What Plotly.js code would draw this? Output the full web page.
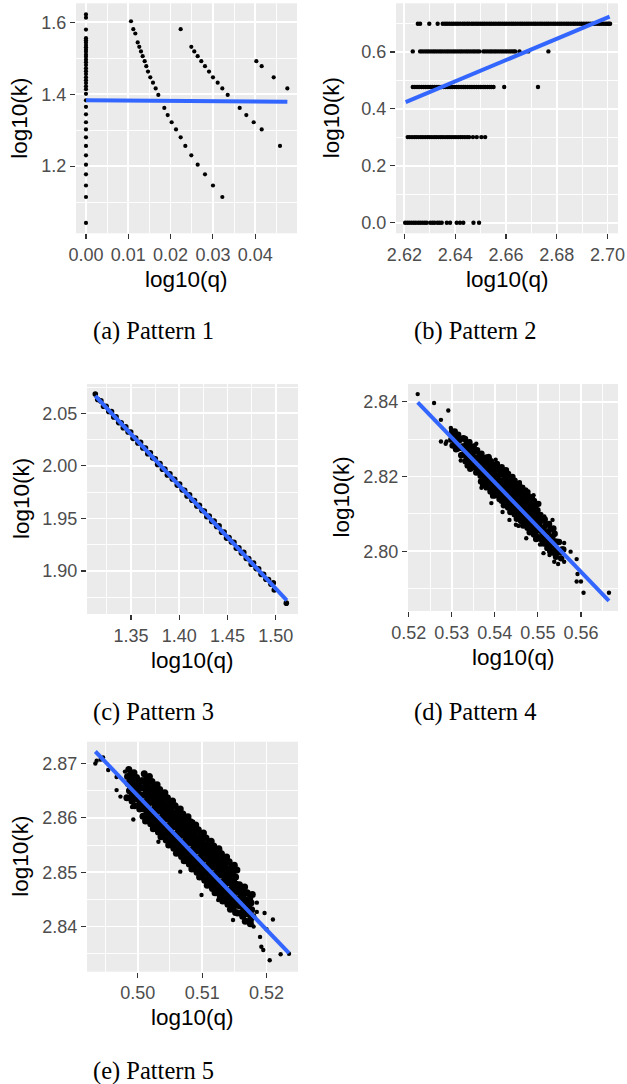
<!DOCTYPE html>
<html><head><meta charset="utf-8">
<script src="https://cdn.plot.ly/plotly-3.0.1.min.js"></script>
<style>html,body{margin:0;padding:0;background:#fff}#chart{width:627px;height:1084px}</style>
</head><body><div id="chart"></div>
<script>
// ---------------- DATA ----------------
const captions = ["(a) Pattern 1", "(b) Pattern 2", "(c) Pattern 3", "(d) Pattern 4", "(e) Pattern 5"];
const xLabel = "log10(q)";
const yLabel = "log10(k)";

// Pattern 1: [log10(q), log10(k)]
const aPoints = [
 [0,1.622],[0,1.613],[0,1.580],[0,1.556],[0,1.550],[0,1.544],[0,1.537],[0,1.531],[0,1.524],[0,1.518],
 [0,1.510],[0,1.504],[0,1.496],[0,1.489],[0,1.481],[0,1.472],[0,1.464],[0,1.456],[0,1.447],[0,1.439],
 [0,1.431],[0,1.422],[0,1.414],[0,1.401],[0,1.383],[0,1.365],[0,1.344],[0,1.322],[0,1.302],[0,1.280],
 [0,1.256],[0,1.230],[0,1.204],[0,1.177],[0,1.146],[0,1.114],[0,1.042],
 [0.01064,1.603],[0.01119,1.581],[0.01166,1.569],[0.01222,1.544],[0.0126,1.532],[0.0130,1.519],[0.0134,1.506],
 [0.01387,1.492],[0.01426,1.478],[0.01466,1.463],[0.0152,1.447],[0.01584,1.432],[0.01647,1.416],[0.0171,1.398],
 [0.01852,1.362],[0.01931,1.342],[0.02025,1.322],[0.02128,1.302],[0.02238,1.280],[0.02348,1.256],[0.0249,1.230],
 [0.0264,1.204],[0.02813,1.177],[0.03002,1.146],[0.03223,1.114],
 [0.02238,1.581],[0.0249,1.532],[0.0256,1.519],[0.0264,1.506],[0.02726,1.492],[0.02813,1.478],[0.02908,1.463],
 [0.03002,1.447],[0.03113,1.432],[0.03223,1.416],[0.0335,1.398],[0.03633,1.362],[0.0379,1.342],[0.03964,1.322],
 [0.04153,1.302],
 [0.04027,1.492],[0.04153,1.478],[0.04437,1.447],[0.0476,1.416],[0.04586,1.256]
];
const aFitQ = [0, 0.0476];
const aFitK = [1.3832, 1.3788];

// Pattern 2: log10(q) values on each k level
const bLevels = [0.69897, 0.60206, 0.47712, 0.30103, 0];
const bRowK5 = [2.6253,2.6262,2.6298,2.6331,2.6351,2.6360,2.6368,2.6377,2.6386,2.6394,2.6403,2.6411,2.6420,2.6430,
 2.6438,2.6447,2.6455,2.6465,2.6473,2.6482,2.6490,2.6499,2.6508,2.6516,2.6525,2.6534,2.6542,2.6551,2.6560,2.6569,
 2.6577,2.6586,2.6595,2.6603,2.6612,2.6621,2.6629,2.6638,2.6647,2.6656,2.6664,2.6673,2.6682,2.6690,2.6699,2.6708,
 2.6716,2.6725,2.6734,2.6742,2.6751,2.6760,2.6768,2.6777,2.6786,2.6794,2.6803,2.6812,2.6820,2.6829,2.6838,2.6846,
 2.6855,2.6864,2.6872,2.6881,2.6890,2.6898,2.6907,2.6916,2.6924,2.6933,2.6942,2.6950,2.6959,2.6968,2.6976,2.6985,
 2.6993,2.7000,2.7005,2.7010];
const bRowK4 = [2.6233,2.6262,2.6270,2.6279,2.6288,2.6296,2.6305,2.6314,2.6322,2.6331,2.6340,2.6348,2.6357,2.6366,
 2.6374,2.6383,2.6392,2.6400,2.6409,2.6418,2.6426,2.6435,2.6444,2.6452,2.6461,2.6470,2.6478,2.6487,2.6495,
 2.6511,2.6519,2.6528,2.6537,2.6545,2.6554,2.6562,2.6571,2.6580,2.6588,2.6597,2.6605,2.6614,2.6622,2.6630,2.6636,
 2.6653,2.6688,2.6767];
const bRowK3 = [2.6233,2.6241,2.6250,2.6258,2.6267,2.6276,2.6284,2.6293,2.6302,2.6310,2.6319,2.6328,2.6336,2.6345,
 2.6354,2.6362,2.6371,2.6380,2.6388,2.6397,2.6406,2.6414,2.6423,2.6432,2.6440,2.6449,2.6458,2.6466,2.6475,2.6484,
 2.6492,2.6501,2.6510,2.6518,2.6527,2.6536,2.6543,2.6551,2.6593,2.6726];
const bRowK2 = [2.6213,2.6221,2.6230,2.6239,2.6247,2.6256,2.6265,2.6273,2.6282,2.6291,2.6299,2.6308,2.6317,2.6325,
 2.6334,2.6343,2.6351,2.6360,2.6369,2.6377,2.6386,2.6395,2.6403,2.6412,2.6421,2.6429,2.6438,2.6447,2.6455,
 2.6470,2.6485,2.6503,2.6518];
const bRowK1 = [2.6203,2.6211,2.6219,2.6228,2.6237,2.6245,2.6254,2.6262,2.6271,2.6280,2.6288,2.6302,2.6311,2.6319,
 2.6330,2.6338,2.6347,2.6367,2.6380,2.6406,2.6419,2.6432,2.6472,2.6494];
const bFitQ = [2.6205, 2.7008];
const bFitK = [0.4238, 0.7239];

// Pattern 3
const cPoints = [
 [1.3130,2.0684],[1.3155,2.0632],[1.3188,2.0618],[1.3215,2.0567],[1.3242,2.0567],[1.3270,2.0518],[1.3298,2.0516],
 [1.3321,2.0466],[1.3345,2.0468],[1.3372,2.0412],[1.3398,2.0411],[1.3420,2.0363],[1.3446,2.0371],[1.3470,2.0322],
 [1.3497,2.0323],[1.3521,2.0262],[1.3548,2.0265],[1.3572,2.0218],[1.3599,2.0224],[1.3623,2.0171],[1.3650,2.0169],
 [1.3674,2.0116],[1.3701,2.0125],[1.3725,2.0075],[1.3752,2.0067],[1.3776,2.0014],[1.3800,2.0023],[1.3826,1.9969],
 [1.3851,1.9969],[1.3877,1.9913],[1.3903,1.9924],[1.3928,1.9875],[1.3953,1.9873],[1.3979,1.9817],[1.4004,1.9828],
 [1.4030,1.9772],[1.4056,1.9768],[1.4081,1.9714],[1.4107,1.9724],[1.4132,1.9673],[1.4158,1.9671],[1.4183,1.9619],
 [1.4209,1.9626],[1.4235,1.9575],[1.4260,1.9570],[1.4286,1.9516],[1.4311,1.9523],[1.4337,1.9471],[1.4362,1.9475],
 [1.4388,1.9424],[1.4413,1.9429],[1.4439,1.9369],[1.4465,1.9371],[1.4490,1.9313],[1.4516,1.9319],[1.4541,1.9276],
 [1.4567,1.9274],[1.4592,1.9217],[1.4618,1.9220],[1.4644,1.9171],[1.4669,1.9177],[1.4695,1.9119],[1.4720,1.9118],
 [1.4746,1.9065],[1.4771,1.9075],[1.4797,1.9023],[1.4823,1.9021],[1.4848,1.8968],[1.4874,1.8968],[1.4899,1.8921],
 [1.4925,1.8919],[1.4951,1.8874],[1.4975,1.8887],[1.4985,1.8820],[1.5110,1.8694]
];
const cFitQ = [1.3130, 1.5115];
const cFitK = [2.0665, 1.8720];

// Pattern 4 (dense core, then scattered points)
const dCore = [
 [0.5301,2.8320],[0.5299,2.8299],[0.5302,2.8283],[0.5304,2.8307],[0.5306,2.8285],[0.5307,2.8321],
 [0.5311,2.8291],[0.5309,2.8310],[0.5310,2.8273],[0.5316,2.8297],[0.5314,2.8275],[0.5315,2.8312],
 [0.5321,2.8277],[0.5319,2.8299],[0.5322,2.8257],[0.5324,2.8281],[0.5326,2.8259],[0.5327,2.8303],
 [0.5331,2.8301],[0.5329,2.8281],[0.5330,2.8261],[0.5332,2.8241],[0.5334,2.8287],[0.5336,2.8267],[0.5335,2.8248],[0.5337,2.8230],
 [0.5341,2.8292],[0.5339,2.8273],[0.5340,2.8254],[0.5342,2.8235],[0.5344,2.8278],[0.5346,2.8259],[0.5345,2.8239],[0.5343,2.8221],
 [0.5351,2.8281],[0.5349,2.8263],[0.5350,2.8244],[0.5352,2.8225],[0.5356,2.8268],[0.5354,2.8249],[0.5355,2.8230],[0.5357,2.8211],
 [0.5359,2.8271],[0.5361,2.8252],[0.5360,2.8233],[0.5362,2.8215],[0.5366,2.8258],[0.5364,2.8240],[0.5365,2.8221],[0.5367,2.8202],
 [0.5369,2.8261],[0.5371,2.8242],[0.5370,2.8223],[0.5372,2.8205],[0.5368,2.8187],
 [0.5376,2.8248],[0.5374,2.8229],[0.5375,2.8210],[0.5377,2.8191],[0.5373,2.8177],
 [0.5381,2.8251],[0.5379,2.8235],[0.5380,2.8219],[0.5382,2.8203],[0.5378,2.8187],[0.5381,2.8171],
 [0.5384,2.8238],[0.5386,2.8221],[0.5385,2.8205],[0.5387,2.8189],[0.5383,2.8173],[0.5386,2.8251],
 [0.5391,2.8241],[0.5389,2.8224],[0.5390,2.8208],[0.5392,2.8192],[0.5388,2.8176],[0.5390,2.8160],
 [0.5394,2.8229],[0.5396,2.8211],[0.5395,2.8195],[0.5397,2.8179],[0.5393,2.8163],[0.5396,2.8149],
 [0.5401,2.8231],[0.5399,2.8214],[0.5400,2.8198],[0.5402,2.8182],[0.5398,2.8166],[0.5401,2.8150],
 [0.5404,2.8219],[0.5406,2.8201],[0.5405,2.8185],[0.5407,2.8169],[0.5403,2.8153],[0.5405,2.8234],
 [0.5411,2.8221],[0.5409,2.8204],[0.5410,2.8188],[0.5412,2.8172],[0.5408,2.8156],[0.5411,2.8140],
 [0.5416,2.8225],[0.5414,2.8207],[0.5415,2.8189],[0.5417,2.8171],[0.5413,2.8153],[0.5416,2.8135],
 [0.5419,2.8211],[0.5421,2.8192],[0.5420,2.8174],[0.5422,2.8156],[0.5418,2.8138],[0.5421,2.8123],
 [0.5426,2.8217],[0.5424,2.8200],[0.5425,2.8182],[0.5427,2.8164],[0.5423,2.8146],[0.5426,2.8128],
 [0.5431,2.8207],[0.5429,2.8189],[0.5430,2.8171],[0.5432,2.8153],[0.5428,2.8135],[0.5431,2.8117],
 [0.5434,2.8193],[0.5436,2.8174],[0.5435,2.8156],[0.5437,2.8138],[0.5433,2.8120],[0.5436,2.8105],
 [0.5441,2.8199],[0.5439,2.8182],[0.5440,2.8164],[0.5442,2.8146],[0.5438,2.8128],[0.5441,2.8110],
 [0.5446,2.8189],[0.5444,2.8171],[0.5445,2.8153],[0.5447,2.8135],[0.5443,2.8117],[0.5446,2.8099],
 [0.5449,2.8175],[0.5451,2.8156],[0.5450,2.8138],[0.5452,2.8120],[0.5448,2.8102],[0.5451,2.8087],
 [0.5456,2.8181],[0.5454,2.8164],[0.5455,2.8146],[0.5457,2.8128],[0.5453,2.8110],[0.5456,2.8092],
 [0.5461,2.8171],[0.5459,2.8153],[0.5460,2.8135],[0.5462,2.8117],[0.5458,2.8099],[0.5461,2.8081],
 [0.5464,2.8157],[0.5466,2.8138],[0.5465,2.8120],[0.5467,2.8102],[0.5463,2.8084],[0.5466,2.8069],
 [0.5471,2.8163],[0.5469,2.8146],[0.5470,2.8128],[0.5472,2.8110],[0.5468,2.8092],[0.5471,2.8074],
 [0.5476,2.8153],[0.5474,2.8135],[0.5475,2.8117],[0.5477,2.8099],[0.5473,2.8081],[0.5476,2.8063],
 [0.5479,2.8139],[0.5481,2.8120],[0.5480,2.8102],[0.5482,2.8084],[0.5478,2.8066],[0.5481,2.8051],
 [0.5486,2.8145],[0.5484,2.8128],[0.5485,2.8110],[0.5487,2.8092],[0.5483,2.8074],[0.5486,2.8056],
 [0.5491,2.8135],[0.5489,2.8117],[0.5490,2.8099],[0.5492,2.8081],[0.5488,2.8063],[0.5491,2.8045],
 [0.5494,2.8121],[0.5496,2.8102],[0.5495,2.8084],[0.5497,2.8066],[0.5493,2.8048],[0.5496,2.8033],
 [0.5501,2.8127],[0.5499,2.8110],[0.5500,2.8092],[0.5502,2.8074],[0.5498,2.8056],[0.5501,2.8038],
 [0.5506,2.8097],[0.5504,2.8076],[0.5505,2.8055],[0.5507,2.8033],[0.5509,2.8083],[0.5511,2.8062],[0.5510,2.8040],[0.5512,2.8021],
 [0.5516,2.8085],[0.5514,2.8064],[0.5515,2.8043],[0.5517,2.8021],[0.5519,2.8071],[0.5521,2.8050],[0.5520,2.8028],[0.5522,2.8009],
 [0.5526,2.8073],[0.5524,2.8052],[0.5525,2.8031],[0.5527,2.8009],[0.5529,2.8059],[0.5531,2.8038],[0.5530,2.8016],[0.5532,2.7997],
 [0.5536,2.8061],[0.5534,2.8040],[0.5535,2.8019],[0.5537,2.7997],[0.5539,2.8047],[0.5541,2.8026],[0.5540,2.8004],[0.5542,2.7985],
 [0.5546,2.8025],[0.5544,2.7999],[0.5549,2.8025],[0.5551,2.7997],[0.5556,2.8005],[0.5554,2.7981],[0.5559,2.8005]
];
const dScatter = [
 [0.5221,2.8421],[0.5259,2.8397],[0.5292,2.8377],[0.5275,2.8352],[0.5298,2.8330],[0.5299,2.8325],[0.5275,2.8294],
 [0.5288,2.8294],[0.5286,2.8288],[0.5311,2.8276],[0.5329,2.8300],[0.5342,2.8294],[0.5357,2.8288],[0.5321,2.8243],
 [0.5386,2.8255],[0.5369,2.8170],[0.5392,2.8129],[0.5434,2.8084],[0.5449,2.8071],[0.5473,2.8035],[0.5515,2.8093],
 [0.5534,2.8084],[0.5513,2.7995],[0.5526,2.7999],[0.5538,2.7972],[0.5547,2.7966],[0.5561,2.7972],[0.5561,2.8022],
 [0.5576,2.7999],[0.5590,2.7979],[0.5592,2.7939],[0.5590,2.7919],[0.5600,2.7919],[0.5606,2.7889],[0.5665,2.7889],
 [0.5402,2.8245],[0.5458,2.8185],[0.5466,2.8172],[0.5478,2.8160],[0.5490,2.8150],[0.5418,2.8105],[0.5455,2.8068],
 [0.5505,2.8018],[0.5527,2.7990]
];
const dFitQ = [0.5221, 0.5665];
const dFitK = [2.8399, 2.7867];

// Pattern 5 (dense core, then scattered points)
const eCore = [
 [0.4986,2.8689],[0.4984,2.8676],[0.4985,2.8663],[0.4987,2.8650],[0.4983,2.8637],
 [0.4990,2.8680],[0.4988,2.8667],[0.4989,2.8654],[0.4991,2.8641],
 [0.4994,2.8683],[0.4992,2.8670],[0.4993,2.8657],[0.4995,2.8644],[0.4991,2.8631],
 [0.4998,2.8674],[0.4996,2.8661],[0.4997,2.8648],[0.4999,2.8635],[0.4995,2.8622],
 [0.5002,2.8665],[0.5000,2.8652],[0.5001,2.8639],[0.5003,2.8626],
 [0.5006,2.8668],[0.5004,2.8655],[0.5005,2.8642],[0.5007,2.8629],[0.5003,2.8616],
 [0.5010,2.8681],[0.5008,2.8668],[0.5009,2.8655],[0.5011,2.8642],[0.5007,2.8629],[0.5010,2.8616],[0.5008,2.8603],
 [0.5014,2.8672],[0.5012,2.8659],[0.5013,2.8646],[0.5015,2.8633],[0.5011,2.8620],[0.5014,2.8607],[0.5012,2.8594],
 [0.5018,2.8676],[0.5016,2.8663],[0.5017,2.8650],[0.5019,2.8637],[0.5015,2.8624],[0.5018,2.8611],[0.5016,2.8598],
 [0.5022,2.8667],[0.5020,2.8654],[0.5021,2.8641],[0.5023,2.8628],[0.5019,2.8615],[0.5022,2.8602],[0.5020,2.8589],
 [0.5026,2.8658],[0.5024,2.8645],[0.5025,2.8632],[0.5027,2.8619],[0.5023,2.8606],[0.5026,2.8593],[0.5024,2.8580],
 [0.5030,2.8661],[0.5028,2.8648],[0.5029,2.8635],[0.5031,2.8622],[0.5027,2.8609],[0.5030,2.8596],[0.5028,2.8583],
 [0.5034,2.8652],[0.5032,2.8639],[0.5033,2.8626],[0.5035,2.8613],[0.5031,2.8600],[0.5034,2.8587],[0.5032,2.8574],
 [0.5038,2.8643],[0.5036,2.8630],[0.5037,2.8617],[0.5039,2.8604],[0.5035,2.8591],[0.5038,2.8578],[0.5036,2.8565],
 [0.5042,2.8646],[0.5040,2.8633],[0.5041,2.8620],[0.5043,2.8607],[0.5039,2.8594],[0.5042,2.8581],[0.5040,2.8568],
 [0.5046,2.8637],[0.5044,2.8624],[0.5045,2.8611],[0.5047,2.8598],[0.5043,2.8585],[0.5046,2.8572],[0.5044,2.8559],
 [0.5050,2.8628],[0.5048,2.8615],[0.5049,2.8602],[0.5051,2.8589],[0.5047,2.8576],[0.5050,2.8563],[0.5048,2.8550],
 [0.5054,2.8631],[0.5052,2.8618],[0.5053,2.8605],[0.5055,2.8592],[0.5051,2.8579],[0.5054,2.8566],[0.5052,2.8553],
 [0.5058,2.8622],[0.5056,2.8609],[0.5057,2.8596],[0.5059,2.8583],[0.5055,2.8570],[0.5058,2.8557],[0.5056,2.8544],
 [0.5062,2.8613],[0.5060,2.8600],[0.5061,2.8587],[0.5063,2.8574],[0.5059,2.8561],[0.5062,2.8548],[0.5060,2.8535],
 [0.5066,2.8616],[0.5064,2.8603],[0.5065,2.8590],[0.5067,2.8577],[0.5063,2.8564],[0.5066,2.8551],[0.5064,2.8538],
 [0.5070,2.8607],[0.5068,2.8594],[0.5069,2.8581],[0.5071,2.8568],[0.5067,2.8555],[0.5070,2.8542],[0.5068,2.8529],
 [0.5074,2.8599],[0.5072,2.8586],[0.5073,2.8573],[0.5075,2.8560],[0.5071,2.8547],[0.5074,2.8534],[0.5072,2.8521],
 [0.5078,2.8602],[0.5076,2.8589],[0.5077,2.8576],[0.5079,2.8563],[0.5075,2.8550],[0.5078,2.8537],[0.5076,2.8524],
 [0.5082,2.8593],[0.5080,2.8580],[0.5081,2.8567],[0.5083,2.8554],[0.5079,2.8541],[0.5082,2.8528],[0.5080,2.8515],
 [0.5086,2.8584],[0.5084,2.8571],[0.5085,2.8558],[0.5087,2.8545],[0.5083,2.8532],[0.5086,2.8519],[0.5084,2.8506],
 [0.5090,2.8587],[0.5088,2.8574],[0.5089,2.8561],[0.5091,2.8548],[0.5087,2.8535],[0.5090,2.8522],[0.5088,2.8509],
 [0.5094,2.8578],[0.5092,2.8565],[0.5093,2.8552],[0.5095,2.8539],[0.5091,2.8526],[0.5094,2.8513],[0.5092,2.8500],
 [0.5098,2.8569],[0.5096,2.8556],[0.5097,2.8543],[0.5099,2.8530],[0.5095,2.8517],[0.5098,2.8504],[0.5096,2.8491],
 [0.5102,2.8572],[0.5100,2.8559],[0.5101,2.8546],[0.5103,2.8533],[0.5099,2.8520],[0.5102,2.8507],[0.5100,2.8494],
 [0.5106,2.8563],[0.5104,2.8550],[0.5105,2.8537],[0.5107,2.8524],[0.5103,2.8511],[0.5106,2.8498],[0.5104,2.8485],
 [0.5110,2.8554],[0.5108,2.8541],[0.5109,2.8528],[0.5111,2.8515],[0.5107,2.8502],[0.5110,2.8489],[0.5108,2.8476],
 [0.5114,2.8557],[0.5112,2.8544],[0.5113,2.8531],[0.5115,2.8518],[0.5111,2.8505],[0.5114,2.8492],[0.5112,2.8479],
 [0.5118,2.8548],[0.5116,2.8535],[0.5117,2.8522],[0.5119,2.8509],[0.5115,2.8496],[0.5118,2.8483],[0.5116,2.8470],
 [0.5122,2.8540],[0.5120,2.8527],[0.5121,2.8514],[0.5123,2.8501],[0.5119,2.8488],[0.5122,2.8475],[0.5120,2.8462],
 [0.5126,2.8543],[0.5124,2.8530],[0.5125,2.8517],[0.5127,2.8504],[0.5123,2.8491],[0.5126,2.8478],[0.5124,2.8465],
 [0.5130,2.8534],[0.5128,2.8521],[0.5129,2.8508],[0.5131,2.8495],[0.5127,2.8482],[0.5130,2.8469],[0.5128,2.8456],
 [0.5134,2.8525],[0.5132,2.8512],[0.5133,2.8499],[0.5135,2.8486],[0.5131,2.8473],[0.5134,2.8460],[0.5132,2.8447],
 [0.5138,2.8528],[0.5136,2.8515],[0.5137,2.8502],[0.5139,2.8489],[0.5135,2.8476],[0.5138,2.8463],[0.5136,2.8450],
 [0.5142,2.8519],[0.5140,2.8506],[0.5141,2.8493],[0.5143,2.8480],[0.5139,2.8467],[0.5142,2.8454],[0.5140,2.8441],
 [0.5146,2.8510],[0.5144,2.8497],[0.5145,2.8484],[0.5147,2.8471],[0.5143,2.8458],[0.5146,2.8445],[0.5144,2.8432],
 [0.5150,2.8513],[0.5148,2.8500],[0.5149,2.8487],[0.5151,2.8474],[0.5147,2.8461],[0.5150,2.8448],[0.5148,2.8435],
 [0.5154,2.8504],[0.5152,2.8491],[0.5153,2.8478],[0.5155,2.8465],[0.5151,2.8452],[0.5154,2.8439],[0.5152,2.8426],
 [0.5158,2.8477],[0.5156,2.8464],[0.5157,2.8451],[0.5159,2.8438],[0.5155,2.8425],
 [0.5162,2.8466],[0.5160,2.8453],[0.5161,2.8440],[0.5163,2.8427],
 [0.5166,2.8473],[0.5164,2.8458],[0.5165,2.8445],[0.5167,2.8432],[0.5163,2.8419],
 [0.5170,2.8462],[0.5168,2.8449],[0.5169,2.8436],[0.5171,2.8423],[0.5167,2.8410],
 [0.5174,2.8451],[0.5172,2.8438],[0.5173,2.8425],[0.5175,2.8412],
 [0.5178,2.8459],[0.5176,2.8444],[0.5177,2.8431],[0.5179,2.8418],[0.5175,2.8405]
];
const eScatter = [
 [0.4934,2.8700],[0.4936,2.8705],[0.4942,2.8707],[0.4946,2.8711],[0.4954,2.8688],[0.4967,2.8675],[0.4980,2.8685],
 [0.4967,2.8651],[0.4973,2.8639],[0.4991,2.8620],[0.4993,2.8597],[0.5032,2.8556],[0.5066,2.8501],[0.5076,2.8595],
 [0.5086,2.8593],[0.5099,2.8458],[0.5128,2.8541],[0.5138,2.8507],[0.5151,2.8467],[0.5156,2.8473],[0.5169,2.8462],
 [0.5185,2.8444],[0.5185,2.8427],[0.5197,2.8425],[0.5170,2.8409],[0.5148,2.8412],[0.5125,2.8449],[0.5190,2.8381],
 [0.5192,2.8363],[0.5195,2.8357],[0.5205,2.8338],[0.5210,2.8413],[0.5222,2.8349],[0.5235,2.8350],[0.5200,2.8395],
 [0.5180,2.8400]
];
const eFitQ = [0.4934, 0.5235];
const eFitK = [2.8722, 2.8351];

// ---------------- LAYOUT ----------------
const W = 627, H = 1084;
const panels = [
 {box:[76,297,3.3,233.3],   xr:[-0.00236,0.04988], yr:[1.013,1.653],   xd:0.01, yd:0.2,  xf:'.2f', yf:'.1f', ytx:19.5, cap:[153.7,330.8]},
 {box:[396,618,3.3,233.3],  xr:[2.6167,2.7041],    yr:[-0.037,0.771],  xd:0.02, yd:0.2,  xf:'.2f', yf:'.1f', ytx:331,  cap:[474.5,330.8]},
 {box:[87,298,384,614],     xr:[1.3044,1.5231],    yr:[1.8591,2.0779], xd:0.05, yd:0.05, xf:'.2f', yf:'.2f', ytx:21,   cap:[153.7,711.5]},
 {box:[408,618,384,611],    xr:[0.51985,0.5686],   yr:[2.7840,2.8448], xd:0.01, yd:0.02, xf:'.2f', yf:'.2f', ytx:341,  cap:[474.5,711.5]},
 {box:[87,298,741.7,971.7], xr:[0.4921,0.5249],    yr:[2.8317,2.8740], xd:0.01, yd:0.01, xf:'.2f', yf:'.2f', ytx:21,   cap:[153,1071]}
];

const bPoints = [];
[bRowK5,bRowK4,bRowK3,bRowK2,bRowK1].forEach((row,i)=>row.forEach(q=>bPoints.push([q,bLevels[i]])));

// point groups per panel, with marker size
const pointGroups = [
  [[aPoints, 4.2]],
  [[bPoints, 4.4]],
  [[cPoints, 5.6]],
  [[dCore, 6.4], [dScatter, 4.4]],
  [[eCore, 7.0], [eScatter, 4.4]]
];
const fits = [[aFitQ,aFitK],[bFitQ,bFitK],[cFitQ,cFitK],[dFitQ,dFitK],[eFitQ,eFitK]];

const traces = [];
const layout = {
  width: W, height: H, margin:{l:0,r:0,t:0,b:0},
  paper_bgcolor:'#FFFFFF', plot_bgcolor:'#EBEBEB', showlegend:false,
  font:{family:'Liberation Sans, Arial, sans-serif'},
  annotations: []
};
const tickFont = {family:'Liberation Sans, Arial, sans-serif', size:18, color:'#4D4D4D'};
const titleFont = {family:'Liberation Sans, Arial, sans-serif', size:22.5, color:'#000000'};
const capFont = {family:'Liberation Serif, Times New Roman, serif', size:24.5, color:'#000000'};

panels.forEach((p,i)=>{
  const n = i+1;
  const xa = 'x'+(n===1?'':n), ya = 'y'+(n===1?'':n);
  const [l,r,t,b] = p.box;
  const axBase = {
    showline:false, zeroline:false, showgrid:true, gridcolor:'#FFFFFF', gridwidth:1.8,
    ticks:'outside', ticklen:5, tickwidth:1.1, tickcolor:'#333333', tickfont:tickFont,
    tick0:0, automargin:false, fixedrange:true
  };
  layout['xaxis'+(n===1?'':n)] = Object.assign({}, axBase, {
    domain:[l/W, r/W], range:p.xr, dtick:p.xd, tickformat:p.xf, anchor:ya,
    minor:{dtick:p.xd/2, tick0:0, showgrid:true, gridcolor:'#FFFFFF', gridwidth:0.9}
  });
  layout['yaxis'+(n===1?'':n)] = Object.assign({}, axBase, {
    domain:[1-b/H, 1-t/H], range:p.yr, dtick:p.yd, tickformat:p.yf, anchor:xa,
    minor:{dtick:p.yd/2, tick0:0, showgrid:true, gridcolor:'#FFFFFF', gridwidth:0.9}
  });
  pointGroups[i].forEach(([pts, ms])=>{
    traces.push({type:'scatter', mode:'markers', xaxis:xa, yaxis:ya,
      x: pts.map(d=>d[0]), y: pts.map(d=>d[1]),
      marker:{color:'#000000', size:ms, line:{width:0}}, hoverinfo:'skip', cliponaxis:true});
  });
  traces.push({type:'scatter', mode:'lines', xaxis:xa, yaxis:ya,
    x: fits[i][0], y: fits[i][1], line:{color:'#3366FF', width:4}, hoverinfo:'skip'});
  layout.annotations.push({xref:'paper', yref:'paper', x:((l+r)/2)/W, y:1-(b+46)/H,
    text:xLabel, showarrow:false, xanchor:'center', yanchor:'middle', font:titleFont});
  layout.annotations.push({xref:'paper', yref:'paper', x:p.ytx/W, y:1-((t+b)/2)/H,
    text:yLabel, showarrow:false, xanchor:'center', yanchor:'middle', textangle:-90, font:titleFont});
  layout.annotations.push({xref:'paper', yref:'paper', x:p.cap[0]/W, y:1-p.cap[1]/H,
    text:captions[i], showarrow:false, xanchor:'center', yanchor:'middle', font:capFont});
});

Plotly.newPlot('chart', traces, layout, {staticPlot:true, displayModeBar:false});
</script>
</body></html>
